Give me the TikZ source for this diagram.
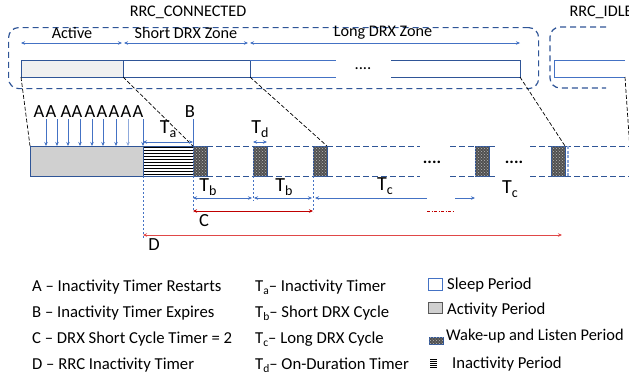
\documentclass[tikz,border=0pt]{standalone}
\usepackage{fontspec}
\setmainfont{Carlito}
\usetikzlibrary{arrows.meta,patterns}
\definecolor{bluedk}{HTML}{2F5597}
\definecolor{bluemid}{HTML}{4472C4}
\definecolor{bluelt}{HTML}{8FAADC}
\definecolor{redC}{HTML}{C00000}
\definecolor{redD}{HTML}{E04848}
\definecolor{wakegray}{HTML}{505050}
\definecolor{actgray}{HTML}{D0D0D0}
\definecolor{actlt}{HTML}{F0F0F0}
\newcommand{\Tsm}[1]{T\raisebox{-0.4ex}{\fontsize{11.5}{11.5}\selectfont #1}}
\newcommand{\Tbig}[1]{T\raisebox{-0.45ex}{\fontsize{14}{14}\selectfont #1}}
\begin{document}
\begin{tikzpicture}[x=1pt,y=-1pt,
  font=\fontsize{16.7}{19}\selectfont,
  box/.style={draw=bluedk, line width=0.9pt, inner sep=0pt, outer sep=0pt, anchor=north west},
  zone/.style={draw=bluedk, dash pattern=on 6pt off 4pt, line width=1.2pt},
  wake/.style={box, fill=wakegray, postaction={pattern=crosshatch dots, pattern color=gray!55}, minimum width=14pt, minimum height=30pt},
  tl/.style={draw=bluedk, dash pattern=on 6pt off 3pt, line width=0.9pt},
  zoomln/.style={draw=black, dash pattern=on 4pt off 2pt, line width=0.7pt},
  dim/.style={draw=bluemid, line width=0.8pt},
  tip/.style={{Stealth[length=4pt,width=3.5pt]}-{Stealth[length=4pt,width=3.5pt]}},
  rtip/.style={-{Stealth[length=4pt,width=3.5pt]}},
  ltip/.style={{Stealth[length=4pt,width=3.5pt]}-},
  vdot/.style={draw=bluemid, dash pattern=on 2pt off 2pt, line width=0.7pt},
  big/.style={font=\fontsize{20}{22}\selectfont},
  lab/.style={font=\fontsize{18.5}{20}\selectfont, inner sep=0pt},
  top/.style={font=\fontsize{16.2}{19}\selectfont},
  leg/.style={anchor=west, inner sep=0pt},
]
\useasboundingbox (0,0) rectangle (629,381);

% ---------- top: zones ----------
\node[top] (lblconn) at (188,12) {RRC\_CONNECTED};
\node[top, anchor=west] (lblidle) at (566,12) {RRC\_IDLE};
\node[zone, rounded corners=10pt, minimum width=530pt, minimum height=61pt, anchor=north west, inner sep=0pt] (connbox) at (8,27) {};
\draw[zone, rounded corners=10pt] (606,27) -| (550,88) -- (606,88);

\node[top] (lblact) at (72,33) {Active};
\node[top] (lblshort) at (186,33) {Short DRX Zone};
\node[top] (lbllong) at (383,33) {Long DRX Zone};
\coordinate (z0) at (21,43);
\coordinate (z1) at (123,43);
\coordinate (z2) at (249,43);
\coordinate (z3) at (520,43);
\draw[dim, line width=0.6pt, tip] (z0) -- ([xshift=-1pt]z1);
\draw[dim, line width=0.6pt, tip] ([xshift=1pt]z1) -- ([xshift=-1pt]z2);
\draw[dim, line width=0.6pt, tip] ([xshift=1pt]z2) -- (z3);

% top bar
\node[box, fill=actlt, minimum width=102pt, minimum height=17pt] (actbar) at (21,60) {};
\node[box, fill=white, minimum width=127pt, minimum height=17pt] (sbar) at (123,60) {};
\coordinate (lb1) at (250,60);
\coordinate (lb2) at (250,77);
\coordinate (lb3) at (391,60);
\coordinate (lb4) at (391,77);
\coordinate (lbe) at (520,77);
\draw[bluemid, line width=0.9pt] (lb1) -- (336,60);
\draw[bluemid, line width=0.9pt] (lb2) -- (336,77);
\draw[bluedk, line width=0.9pt] (lb3) -- (520,60) -- (lbe) -- (lb4);
\node (dots0) at (363,69) {....};
\coordinate (ib) at (625,77);
\draw[bluemid, line width=0.9pt] (625,60) -- (554,60) -- (554,77) -- (ib);

% ---------- detail timeline ----------
\node[box, fill=actgray, minimum width=113pt, minimum height=30pt] (grayblk) at (30,146) {};
\node[box, fill=white, minimum width=50pt, minimum height=30pt] (inact) at (143,146) {};
\foreach \k in {0,...,9}{
  \draw[black, line width=1.6pt] (143.5,147.3+3*\k) -- (192.5,147.3+3*\k);
}
\draw[bluedk, line width=0.9pt] (inact.north west) rectangle (inact.south east);
\node[wake] (w1) at (193,146) {};
\node[wake] (w2) at (253,146) {};
\node[wake] (w3) at (313,146) {};
\node[wake] (w4) at (475,146) {};
\node[wake] (w5) at (551,146) {};

\draw[tl] (w1.north east) -- (w2.north west);
\draw[tl] (w1.south east) -- (w2.south west);
\draw[tl] (w2.north east) -- (w3.north west);
\draw[tl] (w2.south east) -- (w3.south west);
\draw[tl] (w3.north east) -- (420,146);
\draw[tl] (w3.south east) -- (420,176);
\draw[tl] (450,146) -- (w4.north west);
\draw[tl] (450,176) -- (w4.south west);
\draw[tl] (w4.north east) -- (498,146);
\draw[tl] (w4.south east) -- (498,176);
\draw[tl] (530,146) -- (w5.north west);
\draw[tl] (530,176) -- (w5.south west);
\draw[tl] (w5.north east) -- (629,146);
\draw[tl] (w5.south east) -- (629,176);
\draw[draw=bluelt, dash pattern=on 3pt off 1.5pt, line width=1.2pt] (568,146) -- (568,176);
\node[font=\fontsize{17}{19}\selectfont\bfseries] (dots1) at (432,162) {....};
\node[font=\fontsize{17}{19}\selectfont\bfseries] (dots2) at (514,162) {....};

% zoom lines
\draw[zoomln] (actbar.south west) -- (grayblk.north west);
\draw[zoomln] (sbar.south west) -- (w1.north west);
\draw[zoomln] (sbar.south east) -- (w3.north east);
\draw[zoomln] (lbe) -- (w5.north east);
\draw[zoomln] (ib) -- (630,150);

% A arrows
\foreach \ax/\lx [count=\i] in {46/39,57/51,68/66,80/77,92/90,103/102,116/114,128/126,143/138}{
  \node[lab] (A\i) at (\lx,112) {A};
  \coordinate (As\i) at (\ax,119);
  \coordinate (Ae\i) at (\ax,146);
}
\foreach \i in {1,...,7}{ \draw[dim, rtip] (As\i) -- (Ae\i); }
\draw[draw=bluelt, line width=1pt, rtip] (As8) -- (Ae8);
\draw[dim, rtip] (As9) -- (Ae9);

% B, Ta, Td
\node[lab] (B) at (190,112) {B};
\coordinate (Bs) at (193,119);
\draw[dim] (Bs) -- (w1.north west);
\coordinate (ta0) at (143,142);
\coordinate (ta1) at (193,142);
\draw[dim, tip] (ta0) -- (ta1);
\node[big] (Ta) at (168,129) {\Tbig{a}};
\coordinate (td0) at (253,142);
\coordinate (td1) at (267,142);
\draw[dim, tip] (td0) -- (td1);
\node[big] (Td) at (260,129) {\Tbig{d}};

% verticals below
\draw[vdot] (inact.south west) -- (143,238);
\draw[vdot] (w1.south west) -- (193,212);
\draw[vdot] (w2.south west) -- (253,201);
\draw[vdot] (w3.south west) -- (313,212);

% Tb / Tc arrows
\coordinate (tb0) at (193,198);
\coordinate (tb1) at (253,198);
\coordinate (tb2) at (313,198);
\coordinate (tc0) at (315,198);
\coordinate (tc1) at (427,198);
\coordinate (tc2) at (455,198);
\coordinate (tc3) at (475,198);
\draw[dim, tip] (tb0) -- ([xshift=-1pt]tb1);
\draw[dim, tip] ([xshift=1pt]tb1) -- ([xshift=-1pt]tb2);
\draw[dim, ltip] (tc0) -- (tc1);
\draw[dim, rtip] (tc2) -- (tc3);
\node[big] (Tb1) at (208,187) {\Tbig{b}};
\node[big] (Tb2) at (284,187) {\Tbig{b}};
\node[big] (Tc1) at (385,186) {\Tbig{c}};
\node[big] (Tc2) at (510,189) {\Tbig{c}};

% C and D
\coordinate (c0) at (193,211);
\coordinate (c1) at (313,211);
\draw[redC, line width=0.9pt, tip] (c0) -- (c1);
\draw[redC, line width=0.9pt, dash pattern=on 3pt off 1.5pt on 1pt off 1.5pt] (427,211) -- (453,211);
\node[lab] (C) at (204,221) {C};
\coordinate (d0) at (143,235);
\coordinate (d1) at (562,235);
\draw[redD, line width=0.9pt, tip] (d0) -- (d1);
\node[lab] (D) at (154,245) {D};

% ---------- legend ----------
\node[leg] (LA) at (32,287) {A -- Inactivity Timer Restarts};
\node[leg] (LB) at (32,313) {B -- Inactivity Timer Expires};
\node[leg] (LC) at (32,339) {C -- DRX Short Cycle Timer = 2};
\node[leg] (LD) at (32,365) {D -- RRC Inactivity Timer};

\node[leg] (LTa) at (255,287) {\Tsm{a}-- Inactivity Timer};
\node[leg] (LTb) at (255,313) {\Tsm{b}-- Short DRX Cycle};
\node[leg] (LTc) at (255,339) {\Tsm{c}-- Long DRX Cycle};
\node[leg] (LTd) at (255,365) {\Tsm{d}-- On-Duration Timer};

\node[box, draw=bluemid, line width=0.8pt, fill=white, minimum width=14pt, minimum height=12pt] (ic1) at (428,278) {};
\node[leg] (Lsleep) at (447,285) {Sleep Period};
\node[box, draw=gray!70!black, line width=0.8pt, fill=actgray, minimum width=14pt, minimum height=11pt] (ic2) at (428,302) {};
\node[leg] (Lact) at (447,310) {Activity Period};
\node[box, draw=bluedk, line width=0.5pt, fill=wakegray, postaction={pattern=crosshatch dots, pattern color=gray!55}, minimum width=14pt, minimum height=7pt] (ic3) at (429,337) {};
\node[leg, font=\fontsize{16.4}{19}\selectfont] (Lwake) at (446,336) {Wake-up and Listen Period};
\node[box, draw=none, fill=white, minimum width=7pt, minimum height=9pt] (ic4) at (430,359) {};
\foreach \k in {0,...,4}{
  \draw[black, line width=1.1pt] (430,359.9+2*\k) -- (437,359.9+2*\k);
}
\node[leg] (Linact) at (452,364) {Inactivity Period};
\end{tikzpicture}
\end{document}
